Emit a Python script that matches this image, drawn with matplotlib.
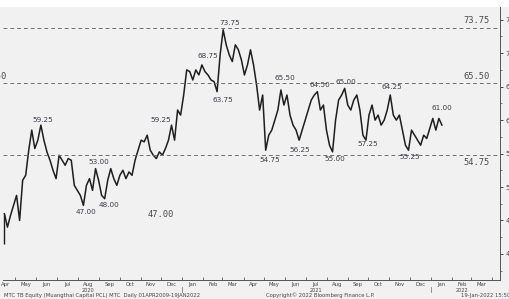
import numpy as np
import pandas as pd
import matplotlib
matplotlib.use("Agg")
import matplotlib.pyplot as plt
import matplotlib.dates as mdates
from matplotlib.transforms import blended_transform_factory
from matplotlib.patches import Rectangle
from matplotlib.ticker import MultipleLocator

close = [46.0, 44.0, 45.75, 47.25, 48.75, 45.0, 51.0, 51.75, 55.5, 58.5,
         55.75, 57.0, 59.25, 57.0, 55.25, 54.0, 52.5, 51.25, 54.75, 54.0,
         53.25, 54.25, 54.0, 50.25, 49.5, 48.75, 47.25, 50.25, 51.25, 49.5,
         52.75, 51.0, 48.75, 48.25, 51.0, 52.75, 51.25, 50.25, 51.75, 52.5,
         51.25, 52.25, 51.75, 54.0, 55.5, 57.0, 56.75, 57.75, 55.5, 54.75,
         54.25, 55.25, 54.75, 55.75, 57.0, 59.25, 57.0, 61.5, 60.75, 63.75,
         67.5, 67.25, 66.0, 67.5, 66.75, 68.25, 67.25, 66.75, 66.0, 65.75,
         64.25, 69.75, 73.5, 71.25, 69.75, 68.75, 71.25, 70.5, 69.0, 66.75,
         68.25, 70.5, 68.25, 65.25, 61.5, 63.75, 55.5, 57.75, 58.5, 60.0,
         61.5, 64.5, 62.25, 63.75, 60.75, 59.25, 58.5, 57.0, 58.5, 60.0,
         61.5, 63.0, 63.75, 64.25, 61.5, 62.25, 58.5, 56.25, 55.25, 60.0,
         63.0, 63.75, 64.75, 62.25, 61.5, 63.0, 63.75, 61.5, 57.75, 57.0,
         60.75, 62.25, 60.0, 60.75, 59.25, 60.0, 61.5, 63.75, 60.75, 60.0,
         60.75, 58.5, 56.25, 55.5, 58.5, 57.75, 57.0, 56.25, 57.75, 57.25,
         58.75, 60.25, 58.5, 60.25, 59.25]
dates = pd.date_range("2020-04-15", "2022-01-17", periods=len(close))
first_low = 41.5

levels = [73.75, 65.50, 54.75]

# annotated highs / lows: date, value, 1 = label above, -1 = label below
pivot_dates = ["2020-06-10", "2020-08-31", "2020-08-12", "2020-09-15", "2020-11-30",
               "2021-02-08", "2021-03-02", "2021-03-11", "2021-05-10", "2021-05-31",
               "2021-06-23", "2021-07-22", "2021-08-29", "2021-08-13", "2021-10-01",
               "2021-11-05", "2021-12-01", "2022-01-17"]
pivot_values = [59.25, 53.00, 47.00, 48.00, 59.25,
                68.75, 63.75, 73.75, 54.75, 65.50,
                56.25, 64.50, 65.00, 55.00, 57.25,
                64.25, 55.25, 61.00]
pivot_side = [1, 1, -1, -1, 1,
              1, -1, 1, -1, 1,
              -1, 1, 1, -1, -1,
              1, -1, 1]

bg = "#f1f1f1"
fig = plt.figure(figsize=(5.09, 2.99), dpi=100, facecolor=bg)
fig.add_artist(Rectangle((0, 0.977), 1, 0.03, transform=fig.transFigure,
                         facecolor="white", edgecolor="none"))
ax = fig.add_axes([0.006, 0.0635, 0.976, 0.913], facecolor=bg)

ax.plot(dates, close, color="#1e1e1e", lw=1.1)
ax.vlines(dates[0], first_low, close[0], color="#1e1e1e", lw=1.0)

for lv in levels:
    ax.axhline(lv, color="#707070", lw=0.7, ls=(0, (4, 3)))

for d, v, s in zip(pivot_dates, pivot_values, pivot_side):
    ax.annotate(f"{v:.2f}", (pd.Timestamp(d), v), xytext=(0, 1.5 * s),
                textcoords="offset points", ha="center",
                va="bottom" if s > 0 else "top", fontsize=5.2, color="#3c3c48")

# level labels on the right side
mono = dict(family="DejaVu Sans Mono", fontsize=6.3, color="#4a4a4a")
lab_x = pd.Timestamp("2022-03-09")
ax.annotate(f"{levels[0]:.2f}", (lab_x, levels[0]), xytext=(0, 2),
            textcoords="offset points", ha="center", va="bottom", **mono)
ax.annotate(f"{levels[1]:.2f}", (lab_x, levels[1]), xytext=(0, 2),
            textcoords="offset points", ha="center", va="bottom", **mono)
ax.annotate(f"{levels[2]:.2f}", (lab_x, levels[2]), xytext=(0, -2),
            textcoords="offset points", ha="center", va="top", **mono)
ax.annotate("47.00", (pd.Timestamp("2020-11-30"), 47.0), xytext=(0, -2),
            textcoords="offset points", ha="center", va="top", **mono)
ax.annotate(f"{levels[1]:.2f}", (pd.Timestamp("2020-04-18"), levels[1]), xytext=(0, 2),
            textcoords="offset points", ha="right", va="bottom", annotation_clip=False,
            **mono)

ax.set_xlim(pd.Timestamp("2020-04-13"), pd.Timestamp("2022-04-12"))
ax.set_ylim(36.1, 76.9)

for side in ["left", "top"]:
    ax.spines[side].set_visible(False)
for side in ["right", "bottom"]:
    ax.spines[side].set_color("#555555")
    ax.spines[side].set_linewidth(0.7)

ax.yaxis.tick_right()
ax.yaxis.set_major_locator(MultipleLocator(5))
ax.yaxis.set_minor_locator(MultipleLocator(2.5))
ax.tick_params(axis="y", which="major", length=2.5, width=0.7, labelsize=5,
               pad=1.5, colors="#444444")
ax.tick_params(axis="y", which="minor", length=1.5, width=0.5, colors="#444444")

ax.xaxis.set_major_locator(mdates.MonthLocator())
ax.xaxis.set_major_formatter(plt.NullFormatter())
ax.xaxis.set_minor_locator(mdates.MonthLocator(bymonthday=16))
ax.xaxis.set_minor_formatter(mdates.DateFormatter("%b"))
ax.tick_params(axis="x", which="major", length=2, width=0.6, direction="in",
               colors="#555555")
ax.tick_params(axis="x", which="minor", length=0, labelsize=3.8, pad=1.5,
               colors="#444444")

tr = blended_transform_factory(ax.transData, ax.transAxes)
for yr, mid in [("2020", "2020-08-16"), ("2021", "2021-07-16"), ("2022", "2022-02-15")]:
    ax.text(pd.Timestamp(mid), -0.03, yr, transform=tr, ha="center", va="top",
            fontsize=3.6, color="#444444")
for sep in ["2021-01-01", "2022-01-01"]:
    ax.plot([pd.Timestamp(sep)] * 2, [-0.025, -0.045], transform=tr,
            color="#666666", lw=0.5, clip_on=False)

fig.text(0.008, 0.003, "MTC TB Equity (Muangthai Capital PCL) MTC  Daily 01APR2009-19JAN2022",
         fontsize=3.8, color="#444444", ha="left", va="bottom")
fig.text(0.63, 0.003, "Copyright\u00a9 2022 Bloomberg Finance L.P.",
         fontsize=3.8, color="#444444", ha="center", va="bottom")
fig.text(0.905, 0.003, "19-Jan-2022 15:50:43",
         fontsize=3.8, color="#444444", ha="left", va="bottom")

fig.savefig("out.png", dpi=100, facecolor=bg)
